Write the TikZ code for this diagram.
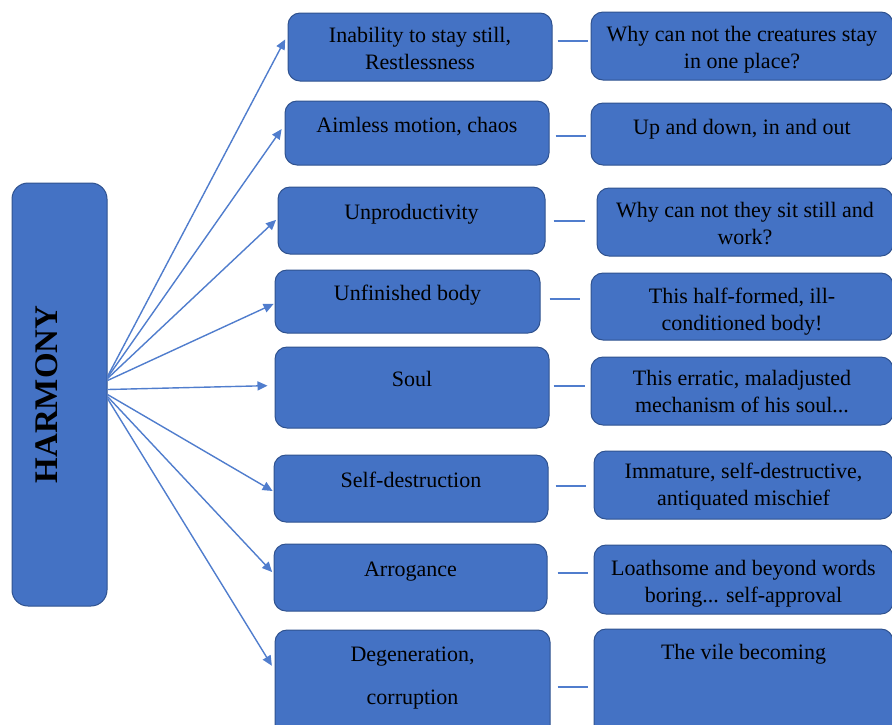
\documentclass[tikz,border=0pt]{standalone}
\usepackage{fontspec}
\setmainfont{Liberation Serif}
\usetikzlibrary{calc,arrows.meta}
\definecolor{boxfill}{RGB}{68,114,196}
\definecolor{boxline}{RGB}{47,82,143}
\definecolor{linkline}{RGB}{80,125,205}
\newlength{\px}\setlength{\px}{0.5pt}
\newcommand{\toptext}[4][6pt]{\parbox[c][#3\px][t]{#2\px}{\centering\vspace*{#1}\strut #4\par}}

\begin{document}
\begin{tikzpicture}[x=0.5pt, y=-0.5pt,
  font=\fontsize{11}{13.5}\selectfont,
  box/.style={draw=boxline, line width=0.5pt, rounded corners=6pt, fill=boxfill, inner sep=0pt, text=black},
  hub/.style={box, rounded corners=8pt, font=\fontsize{16.5}{18}\selectfont\bfseries},
  arr/.style={-{Triangle[length=5pt,width=4.5pt]}, line width=0.7pt, linkline},
  link/.style={line width=0.8pt, linkline}]
\clip (0,0) rectangle (892,724);

% hub
\node[hub, minimum width=95\px, minimum height=423\px] (hm) at (59.5,394.5) {\rotatebox{90}{HARMONY}\hspace*{13pt}};

% middle column: traits
\node[box] (m1) at (420,47) {\toptext[5.5pt]{264}{68}{Inability to stay still,\\ Restlessness}};
\node[box] (m2) at (417,133) {\toptext[6.5pt]{264}{64}{Aimless motion, chaos}};
\node[box] (m3) at (411.5,220.5) {\toptext[7pt]{267}{67}{Unproductivity}};
\node[box] (m4) at (407.5,301.5) {\toptext{265}{63}{Unfinished body}};
\node[box] (m5) at (412,387.5) {\toptext[10.5pt]{274}{81}{Soul}};
\node[box] (m6) at (411,488.5) {\toptext[7pt]{274}{67}{Self-destruction}};
\node[box] (m7) at (410.5,577.5) {\toptext[7pt]{273}{67}{Arrogance}};
\node[box] (m8) at (412.5,685) {\toptext[6.5pt]{275}{110}{Degeneration,\\[8pt] corruption}};

% right column: quotations
\node[box] (r1) at (742,46) {\toptext[5.5pt]{302}{68}{Why can not the creatures stay\\ in one place?}};
\node[box] (r2) at (742,134) {\toptext[6.5pt]{302}{62}{Up and down, in and out}};
\node[box] (r3) at (745,222) {\toptext[5.5pt]{296}{68}{Why can not they sit still and\\ work?}};
\node[box] (r4) at (742,306.5) {\toptext{302}{67}{This half-formed, ill-\\ conditioned body!}};
\node[box] (r5) at (742,391) {\toptext[5pt]{302}{68}{This erratic, maladjusted\\ mechanism of his soul...}};
\node[box] (r6) at (743.5,485) {\toptext[4.5pt]{299}{68}{Immature, self-destructive,\\ antiquated mischief}};
\node[box] (r7) at (743.5,579.5) {\toptext{299}{69}{Loathsome and beyond words\\ boring... self-approval}};
\node[box] (r8) at (743.5,684.5) {\toptext{299}{111}{The vile becoming}};

% arrows from the hub
\draw[arr, shorten >=2.5pt] ($(hm.east)+(0,-18)$) -- ($(m1.west)+(0,-12)$);
\draw[arr, shorten >=2.5pt] ($(hm.east)+(0,-17)$) -- ($(m2.west)+(0,-8)$);
\draw[arr, shorten >=1pt] ($(hm.east)+(0,-16)$) -- ($(m3.west)+(0,-2)$);
\draw[arr, shorten >=0.5pt] ($(hm.east)+(0,-14)$) -- ($(m4.west)+(0,2)$);
\draw[arr, shorten >=3.5pt] ($(hm.east)+(0,-5)$) -- ($(m5.west)+(0,-2)$);
\draw[arr, shorten >=0.5pt] ($(hm.east)+(0,0)$) -- ($(m6.west)+(0,3)$);
\draw[arr, shorten >=1pt] ($(hm.east)+(0,2)$) -- ($(m7.west)+(0,-4)$);
\draw[arr, shorten >=2.5pt] ($(hm.east)+(0,4)$) -- ($(m8.west)+(0,-15)$);

% short links between the columns
\draw[link, shorten <=2.5pt, shorten >=1.5pt] ($(m1.east)+(0,-6)$) -- ($(r1.west)+(0,-5)$);
\draw[link, shorten <=3pt, shorten >=2.5pt] ($(m2.east)+(0,3)$) -- ($(r2.west)+(0,2)$);
\draw[link, shorten <=4pt, shorten >=6pt] ($(m3.east)+(0,0.5)$) -- ($(r3.west)+(0,-1)$);
\draw[link, shorten <=4.5pt, shorten >=5.5pt] ($(m4.east)+(0,-2.5)$) -- ($(r4.west)+(0,-7.5)$);
\draw[link, shorten <=2pt, shorten >=3pt] ($(m5.east)+(0,-1.5)$) -- ($(r5.west)+(0,-5)$);
\draw[link, shorten <=3.5pt, shorten >=4pt] ($(m6.east)+(0,-2.5)$) -- ($(r6.west)+(0,1)$);
\draw[link, shorten <=5pt, shorten >=3pt] ($(m7.east)+(0,-4.5)$) -- ($(r7.west)+(0,-6.5)$);
\draw[link, shorten <=3.5pt, shorten >=3pt] ($(m8.east)+(0,2)$) -- ($(r8.west)+(0,2.5)$);
\end{tikzpicture}
\end{document}
